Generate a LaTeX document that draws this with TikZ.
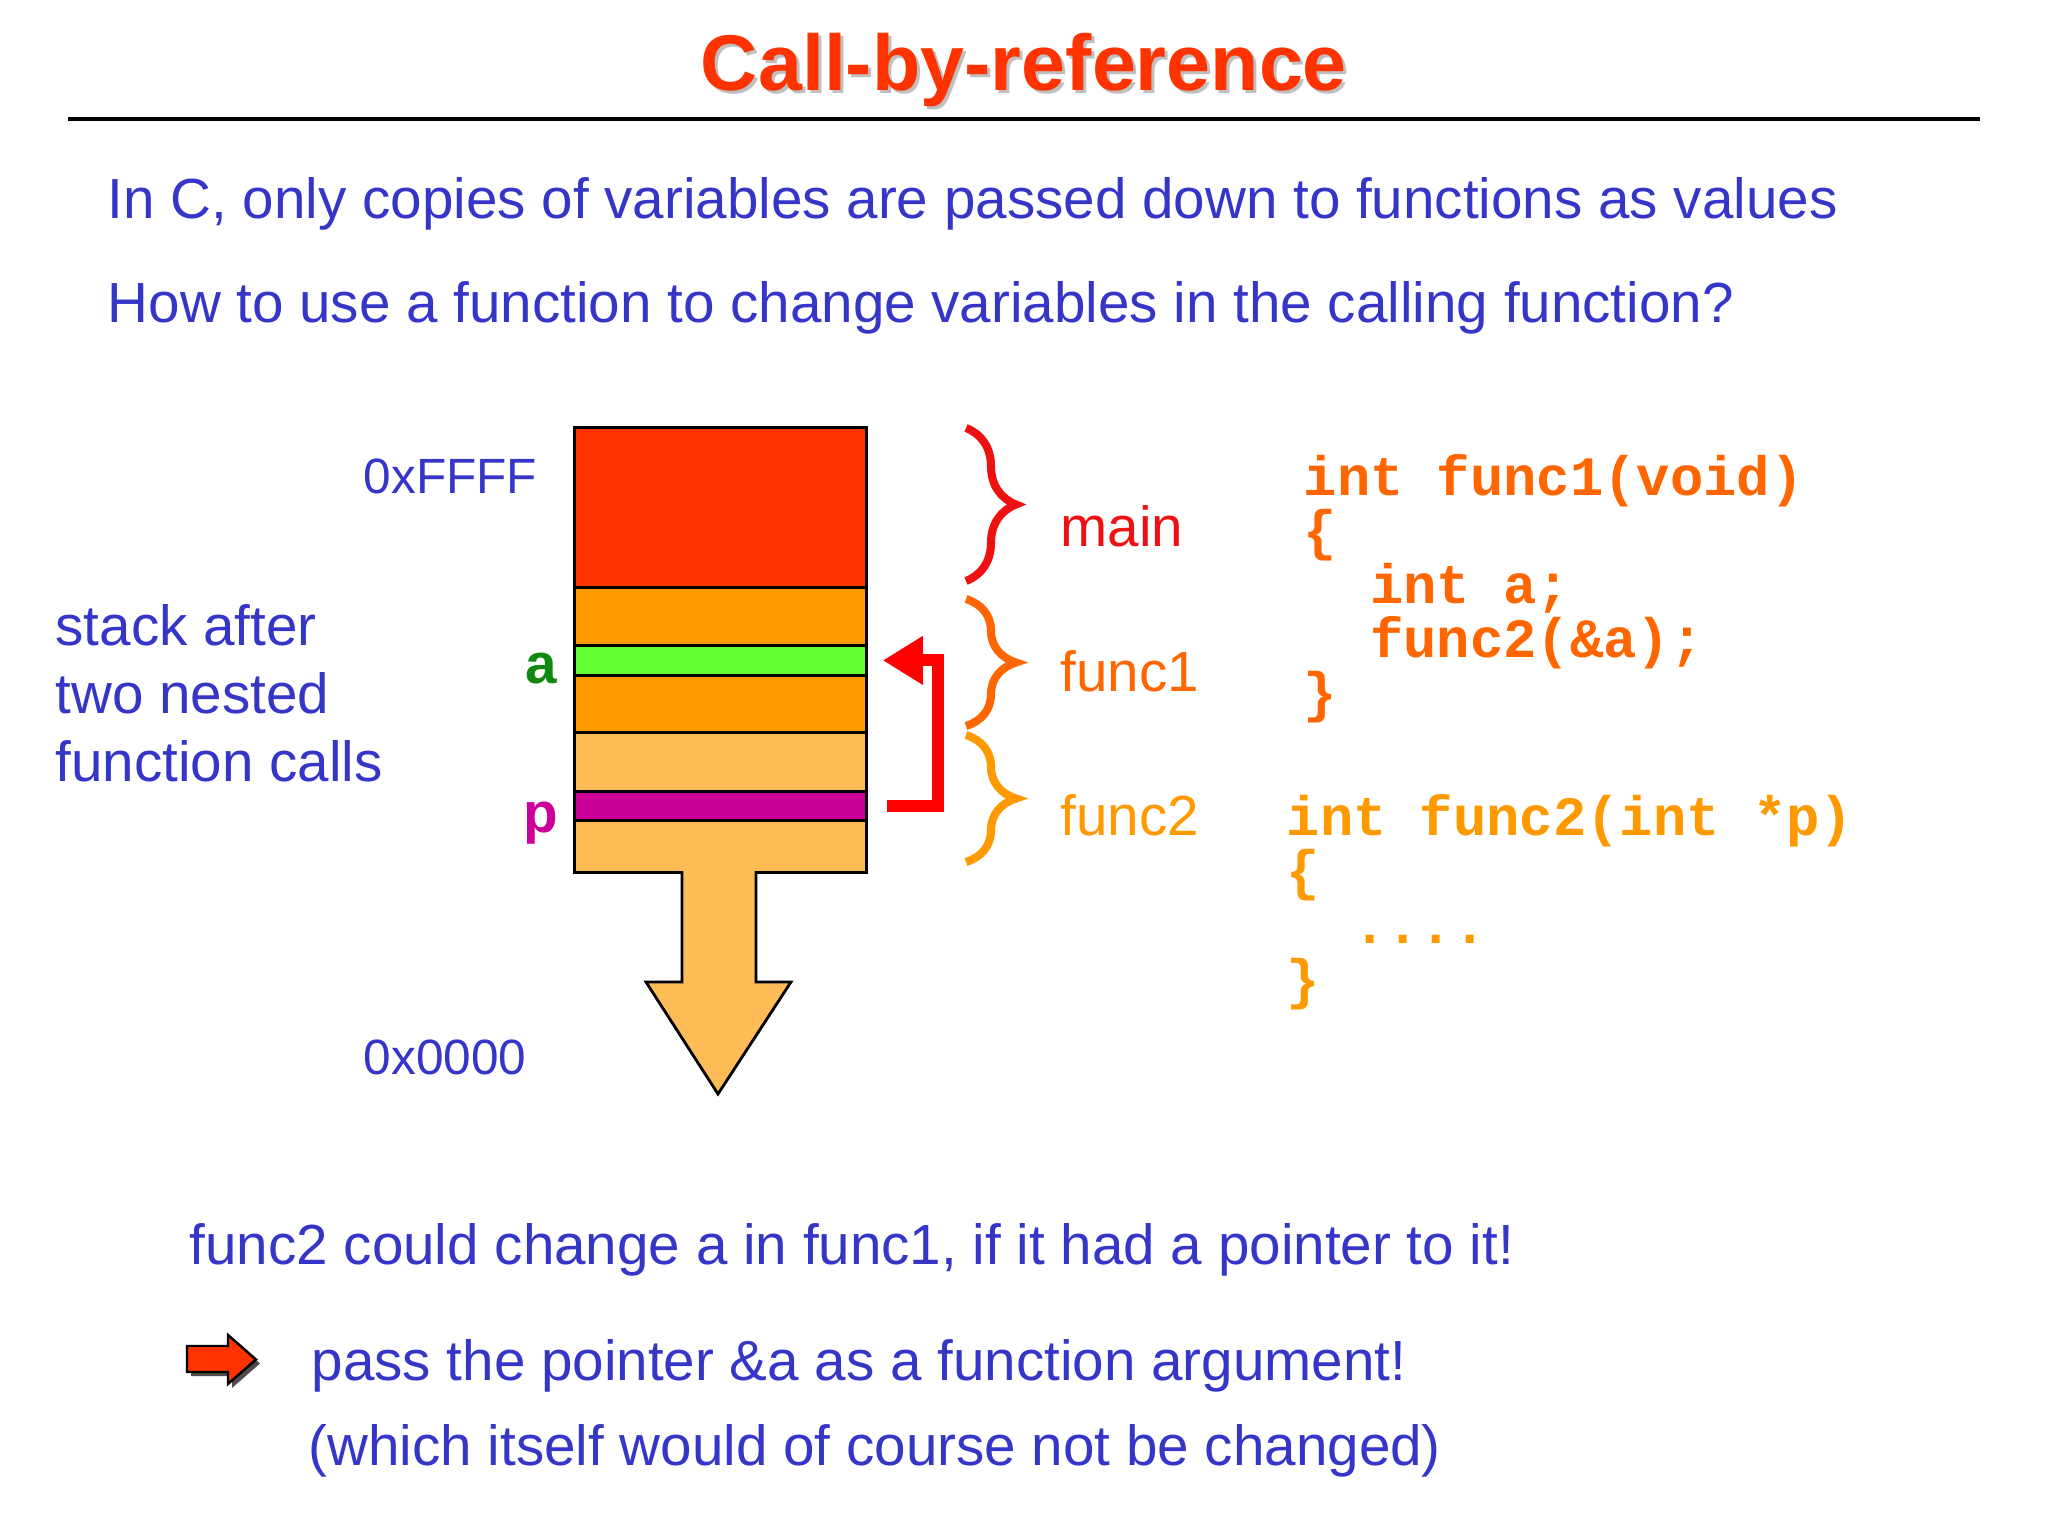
\documentclass[tikz,border=0pt]{standalone}
\usepackage{fontspec}
\setmainfont{Liberation Sans}
\setmonofont{Liberation Mono}
\usetikzlibrary{positioning,arrows.meta,decorations.pathreplacing}
\definecolor{txtblue}{HTML}{3535C8}
\definecolor{titlered}{HTML}{FF3300}
\definecolor{mainred}{HTML}{FF3300}
\definecolor{frameorange}{HTML}{FF9900}
\definecolor{lightorange}{HTML}{FFBB55}
\definecolor{agreen}{HTML}{66FF33}
\definecolor{pmagenta}{HTML}{CC0099}
\definecolor{labgreen}{HTML}{118811}
\definecolor{codeone}{HTML}{FF6600}
\definecolor{codetwo}{HTML}{FF9900}
\definecolor{bracered}{HTML}{EE1111}

\begin{document}
\begin{tikzpicture}[every node/.style={inner sep=0pt,font=\fontsize{16.1pt}{19.35pt}\selectfont},
  txt/.style={anchor=base west,text=txtblue},
  layer/.style={draw,line width=0.8pt,minimum width=2.92cm,anchor=north west},
  code/.style={anchor=base west,align=left,font=\fontsize{15.8pt}{15.37pt}\selectfont\ttfamily\bfseries},
  framebrace/.style={decorate,decoration={brace,amplitude=0.5cm},line width=2.3pt},
  ptr/.style={line width=3.4pt,red,-{Triangle[length=0.4cm,width=0.46cm]}}]
\useasboundingbox (0,0) rectangle (20.48,-15.36);
\node[anchor=base,text=black!25,font=\fontsize{22.5pt}{26pt}\selectfont\bfseries] (titleshadow) at (10.27,-0.94) {Call-by-reference};
\node[anchor=base,text=titlered,font=\fontsize{22.5pt}{26pt}\selectfont\bfseries] (title) at (10.24,-0.91) {Call-by-reference};
\draw[line width=1.1pt] (0.68,-1.19) -- (19.80,-1.19);
\node[txt] (intro1) at (1.07,-2.19) {In C, only copies of variables are passed down to functions as values};
\node[txt] (intro2) at (1.07,-3.23) {How to use a function to change variables in the calling function?};
\node[layer,fill=mainred,minimum height=1.60cm] (mainfr) at (5.73,-4.26) {};
\node[layer,fill=frameorange,minimum height=0.58cm] (f1top) at (5.73,-5.86) {};
\node[layer,fill=agreen,minimum height=0.30cm] (avar) at (5.73,-6.44) {};
\node[layer,fill=frameorange,minimum height=0.57cm] (f1bot) at (5.73,-6.74) {};
\node[layer,fill=lightorange,minimum height=0.59cm] (f2top) at (5.73,-7.31) {};
\node[layer,fill=pmagenta,minimum height=0.29cm] (pvar) at (5.73,-7.90) {};
\node[layer,fill=lightorange,minimum height=0.52cm] (f2bot) at (5.73,-8.19) {};
\fill[lightorange] (6.82,-8.68) -- (6.82,-9.82) -- (6.46,-9.82) -- (7.18,-10.94) -- (7.91,-9.82) -- (7.56,-9.82) -- (7.56,-8.68) -- cycle;
\draw[line width=0.8pt,line join=miter] (6.82,-8.71) -- (6.82,-9.82) -- (6.46,-9.82) -- (7.18,-10.94) -- (7.91,-9.82) -- (7.56,-9.82) -- (7.56,-8.71);
\node[txt,font=\fontsize{14.1pt}{17pt}\selectfont] (top) at (3.63,-4.94) {0xFFFF};
\node[txt,font=\fontsize{14.1pt}{17pt}\selectfont] (bottom) at (3.63,-10.74) {0x0000};
\node[txt,align=left] (caption) at (0.55,-7.82) {stack after\\two nested\\function calls};
\node[anchor=base east,text=labgreen,font=\fontsize{16.1pt}{19pt}\selectfont\bfseries] (alabel) at (5.58,-6.84) {a};
\node[anchor=base east,text=pmagenta,font=\fontsize{16.1pt}{19pt}\selectfont\bfseries] (plabel) at (5.59,-8.32) {p};
\draw[framebrace,bracered] (9.66,-4.28) -- (9.66,-5.81);
\draw[framebrace,codeone] (9.66,-5.99) -- (9.66,-7.26);
\draw[framebrace,codetwo] (9.66,-7.35) -- (9.66,-8.62);
\node[anchor=base west,text=bracered] (mainlab) at (10.60,-5.46) {main};
\node[anchor=base west,text=codeone] (f1lab) at (10.60,-6.92) {func1};
\node[anchor=base west,text=codetwo] (f2lab) at (10.60,-8.36) {func2};
\draw[ptr] ([xshift=0.19cm]pvar.east) -- ++(0.51,0) |- ([xshift=0.15cm]avar.east);
\node[code,text=codeone] (func1) at (13.03,-7.12) {int func1(void)\\\{\\\phantom{xx}int a;\\\phantom{xx}func2(\&a);\\\}};
\node[code,text=codetwo] (func2) at (12.86,-9.98) {int func2(int *p)\\\{\\\phantom{xx}....\\\}};
\node[txt] (note) at (1.89,-12.64) {func2 could change a in func1, if it had a pointer to it!};
\fill[black!70] (1.91,-13.50) -- (2.32,-13.50) -- (2.32,-13.39) -- (2.60,-13.635) -- (2.32,-13.88) -- (2.32,-13.76) -- (1.91,-13.76) -- cycle;
\draw[fill=titlered,line width=0.7pt] (1.87,-13.46) -- (2.28,-13.46) -- (2.28,-13.35) -- (2.56,-13.595) -- (2.28,-13.84) -- (2.28,-13.72) -- (1.87,-13.72) -- cycle;
\node[txt] (answer) at (3.11,-13.80) {pass the pointer \&a as a function argument!};
\node[txt] (remark) at (3.08,-14.65) {(which itself would of course not be changed)};
\end{tikzpicture}
\end{document}
